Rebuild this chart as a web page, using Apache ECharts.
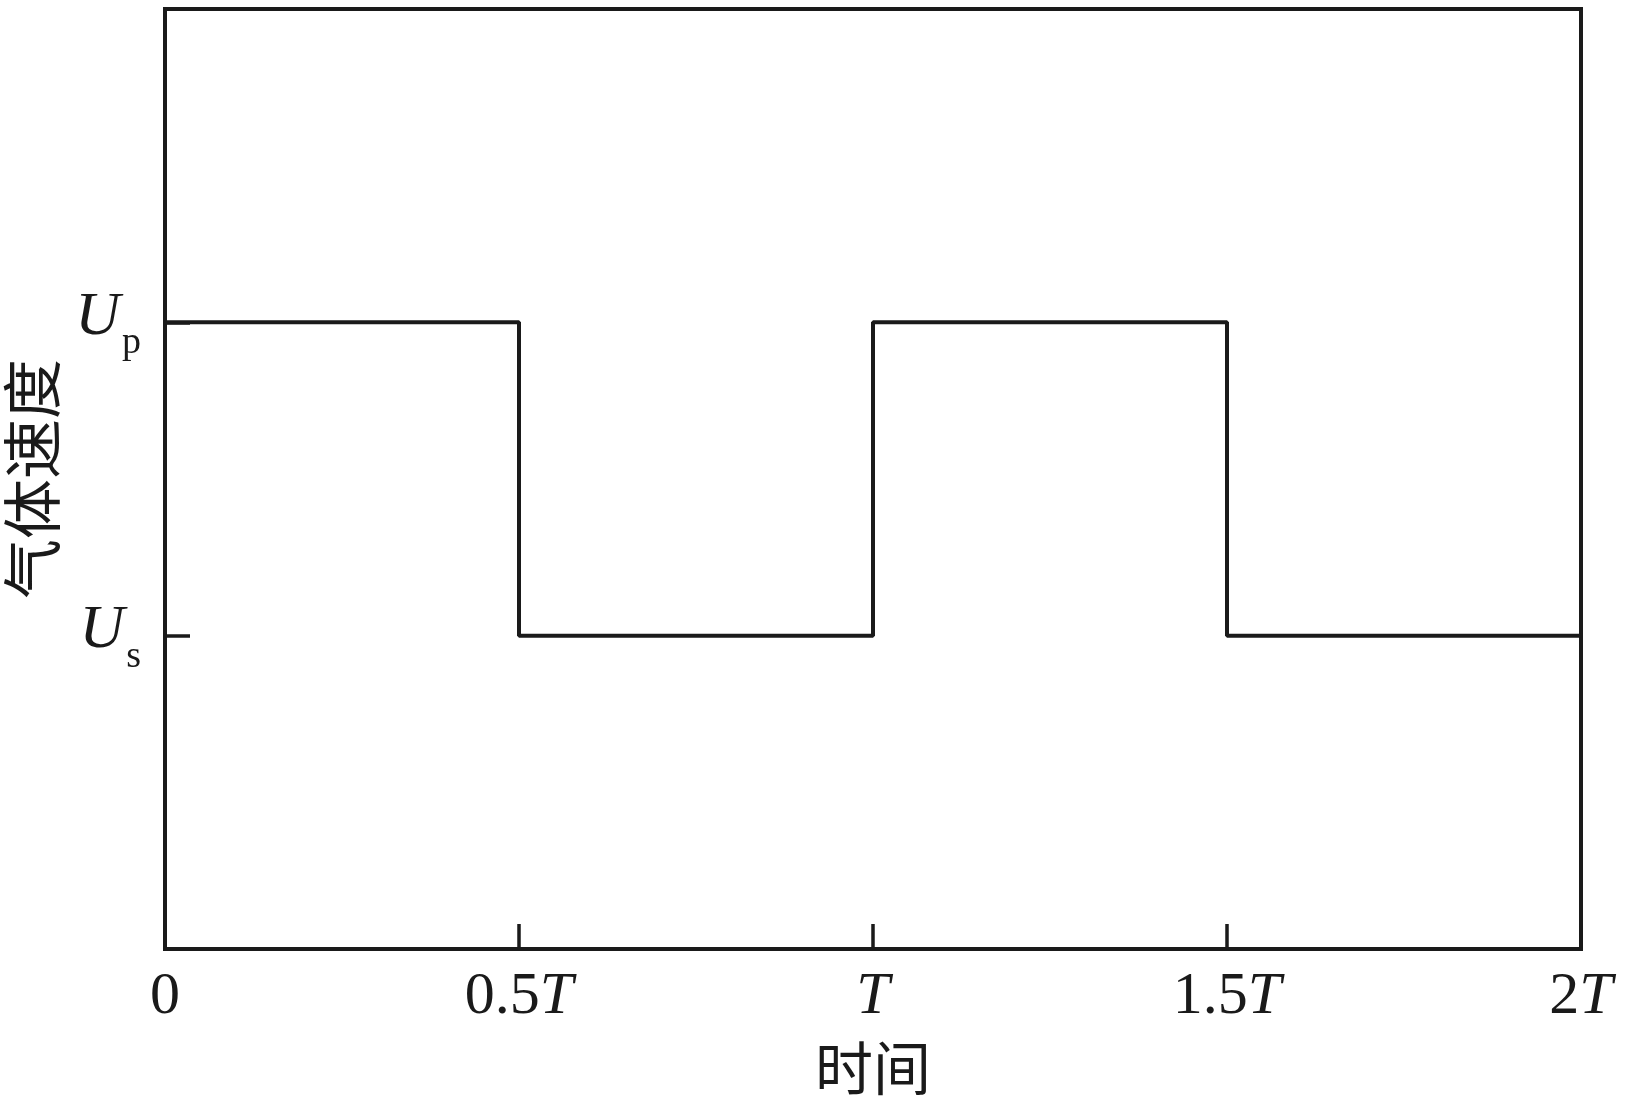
<!DOCTYPE html>
<html>
<head>
<meta charset="utf-8">
<script src="https://cdn.jsdelivr.net/npm/echarts@6/dist/echarts.min.js"></script>
<style>html,body{margin:0;padding:0;background:#fff}#c{width:1629px;height:1100px}</style>
</head>
<body>
<div id="c"></div>
<script>
// time in units of T, velocity levels: Us = 1, Up = 2
const timeValues = [0, 0.5, 0.5, 1, 1, 1.5, 1.5, 2];
const velocityValues = [2, 2, 1, 1, 2, 2, 1, 1];
const xTickValues = [0, 0.5, 1, 1.5, 2];
const xTickLabels = ['0', '0.5{i|T}', '{i|T}', '1.5{i|T}', '2{i|T}'];
const yTickValues = [1, 2];
const yTickLabels = ['{u|U}{s|s}', '{u|U}{s|p}'];
const xName = '时间';
const yName = '气体速度';

const ink = '#1a1a1a';
const serif = '"Liberation Serif", "Times New Roman", serif';
const cjk = '"Noto Sans CJK SC", sans-serif';

const chart = echarts.init(document.getElementById('c'));
chart.setOption({
  animation: false,
  backgroundColor: '#fff',
  grid: { left: 165, right: 48, top: 9, bottom: 151, containLabel: false, outerBoundsMode: 'none',
          show: true, borderColor: ink, borderWidth: 4, backgroundColor: 'transparent' },
  xAxis: {
    type: 'value', min: 0, max: 2, interval: 0.5,
    name: xName, nameLocation: 'middle', nameGap: 90,
    nameTextStyle: { fontFamily: cjk, fontSize: 58, color: ink },
    axisLine: { show: true, lineStyle: { color: ink, width: 4 } },
    axisTick: { show: true, inside: true, length: 25, lineStyle: { color: ink, width: 3.5 } },
    splitLine: { show: false },
    axisLabel: {
      margin: 18, color: ink, fontFamily: serif, fontSize: 60,
      formatter: function (v) { const i = xTickValues.indexOf(v); return i >= 0 ? xTickLabels[i] : ''; },
      rich: { i: { fontFamily: serif, fontSize: 60, fontStyle: 'italic', color: ink } }
    }
  },
  yAxis: {
    type: 'value', min: 0, max: 3,
    name: yName, nameLocation: 'middle', nameGap: 103, nameRotate: 90,
    nameTextStyle: { fontFamily: cjk, fontSize: 60, color: ink },
    axisLine: { show: true, lineStyle: { color: ink, width: 4 } },
    axisTick: { show: true, inside: true, length: 25, customValues: yTickValues, lineStyle: { color: ink, width: 3.5 } },
    splitLine: { show: false },
    axisLabel: {
      margin: 24, color: ink, customValues: yTickValues, padding: [0, 0, 10, 0],
      formatter: function (v) { const i = yTickValues.indexOf(v); return i >= 0 ? yTickLabels[i] : ''; },
      rich: {
        u: { fontFamily: serif, fontSize: 62, fontStyle: 'italic', color: ink, verticalAlign: 'bottom', lineHeight: 62 },
        s: { fontFamily: serif, fontSize: 38, color: ink, verticalAlign: 'bottom', padding: [0, 0, -14, 2], lineHeight: 38 }
      }
    }
  },
  series: [{
    type: 'line',
    data: timeValues.map((t, i) => [t, velocityValues[i]]),
    showSymbol: false,
    lineStyle: { color: ink, width: 4 },
    z: 3
  }]
});
</script>
</body>
</html>
